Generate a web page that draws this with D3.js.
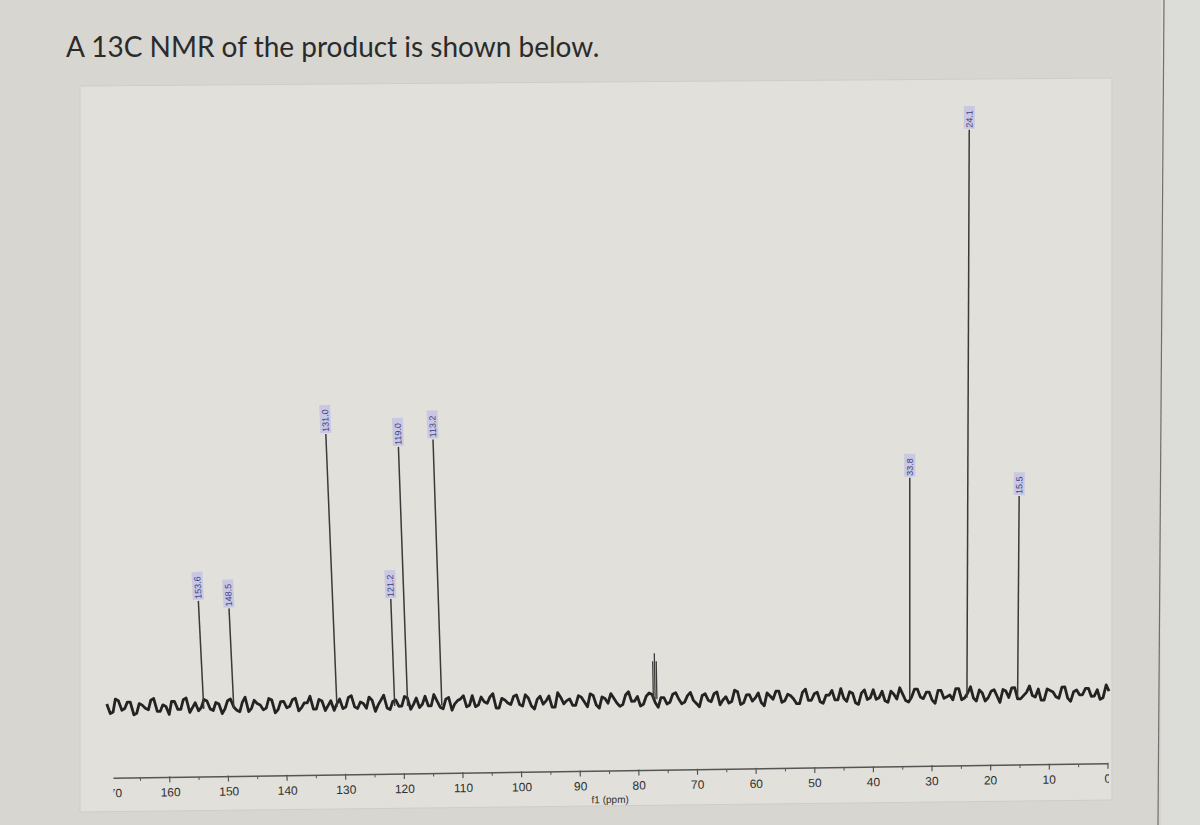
<!DOCTYPE html>
<html>
<head>
<meta charset="utf-8">
<script src="https://cdn.jsdelivr.net/npm/d3@7"></script>
<style>
  body { margin: 0; background: #d7d6d1; }
  svg { display: block; }
</style>
</head>
<body>
<svg id="main_svg" width="1200" height="825"></svg>
<script>
// peak list (ppm, height in arbitrary units, label)
const peakShifts = [153.6, 148.5, 131.0, 121.2, 119.0, 113.2, 33.8, 24.1, 15.5];
const peakHeights = [105, 97, 270, 104, 256, 263, 218, 565, 198];
const peakLabels = ["153.6", "148.5", "131.0", "121.2", "119.0", "113.2", "33.8", "24.1", "15.5"];
// solvent triplet, unlabelled
const solventShifts = [77.3, 77.0, 76.7];
const solventHeights = [38, 46, 38];
// baseline noise, one value per ppm from 170 down to 0
const noise = [2,-3,4,-1,3,-4,1,-2,5,-3,0,3,-2,4,-4,2,-1,3,-3,1,
  -2,4,-3,2,-4,3,0,-2,3,-3,2,-1,4,-2,1,-3,3,-4,2,0,
  -3,4,-2,1,-3,2,-1,5,-4,2,-2,3,-1,-3,4,-2,1,-4,3,-1,
  2,-3,4,-2,0,3,-4,2,-1,3,-2,4,-3,1,-2,3,-4,2,0,-3,
  3,-1,4,-3,2,-2,1,-4,3,-1,2,-3,4,-2,1,-3,3,0,-2,4,
  -3,2,-1,3,-4,1,-2,4,-3,2,0,-3,3,-1,4,-2,1,-4,3,-2,
  2,-3,1,4,-2,-1,3,-4,2,-2,4,-1,-3,3,-2,1,-4,4,-1,2,
  -3,3,-2,0,4,-3,1,-2,3,-4,2,-1,3,-2,4,-3,1,-1,3,-4,
  2,-2,4,-3,1,-1,3,-2,2,-3,1];
// and the in-between values, at 169.5, 168.5 ... 0.5 ppm
const noiseHalf = [-4,5,-2,3,-5,2,-1,4,-3,1,-5,3,-2,5,-1,-3,4,-2,2,-5,
  3,-1,-4,5,-2,1,-3,4,-5,2,-2,3,-4,1,5,-3,2,-1,-4,3,
  -2,5,-3,0,4,-5,2,-3,1,-2,4,-4,3,-1,-2,5,-3,2,-5,1,
  4,-2,-3,3,-1,5,-4,1,-2,4,-3,2,-5,3,0,-4,5,-2,1,-3,
  2,-4,3,-5,1,4,-2,-3,5,-1,-4,2,3,-5,1,-2,4,-3,2,-1,
  -5,3,-2,4,-1,-3,5,-4,2,-2,3,-5,1,4,-3,2,-1,-4,5,-2,
  3,-4,1,-2,5,-3,2,-5,4,-1,-2,3,-4,1,5,-3,-1,4,-2,2,
  -5,3,-1,-3,4,-2,5,-4,1,-2,3,-5,2,4,-3,-1,5,-2,-4,3,
  1,-3,4,-5,2,-1,3,-2,-4,5];
const majorTicks = d3.range(170, -1, -10);
const minorTicks = d3.range(165, 0, -10);

const svg = d3.select("#main_svg");
const baseY = 700;
const axisY = 771;
const font = "'Liberation Sans', Arial, sans-serif";

const x = d3.scaleLinear().domain([170, 0]).range([111, 1108]);
const y = d3.scaleLinear().domain([0, 565]).range([baseY, baseY - 565]);
const yNoise = d3.scaleLinear().domain([0, 1]).range([baseY, baseY - 1.6]);

// the photo is a bit skewed: verticals lean away from x=910, horizontals rise to the right
function warp(px, py) {
  return [px + (px - 910) * (axisY - py) / 14000, py - 0.0145 * (px - 610)];
}
function seg(x1, y1, x2, y2) {
  return d3.line()([warp(x1, y1), warp(x2, y2)]);
}

// photo page: right hand panel and divider
svg.append("rect").attr("x", 1161).attr("y", 0).attr("width", 39).attr("height", 825).attr("fill", "#dcdcd9");
svg.append("line").attr("x1", 1164).attr("y1", 0).attr("x2", 1158).attr("y2", 825)
  .attr("stroke", "#6f6f6c").attr("stroke-width", 1.2);

svg.append("text").attr("x", 66).attr("y", 57)
  .attr("font-family", "Lato, 'Open Sans', sans-serif").attr("font-size", 28)
  .attr("fill", "#2b2b2b").text("A 13C NMR of the product is shown below.");

// plot frame of the screenshot
svg.append("path").attr("d", "M80,86 L1112,78 L1112,800 L80,812 Z")
  .attr("fill", "#e2e0da").attr("stroke", "#cfcdc6").attr("stroke-width", 1);

// baseline noise
const noisePts = [];
noise.forEach((v, i) => {
  noisePts.push(warp(x(170 - i), yNoise(v)));
  if (i < noiseHalf.length) noisePts.push(warp(x(169.5 - i), yNoise(noiseHalf[i])));
});
svg.append("path").attr("d", d3.line()(noisePts))
  .attr("fill", "none").attr("stroke", "#232323").attr("stroke-width", 2.8)
  .attr("stroke-linejoin", "round");

// solvent lines
svg.selectAll(".solvent").data(solventShifts).enter().append("path").attr("class", "solvent")
  .attr("d", (d, i) => seg(x(d), y(0), x(d), y(solventHeights[i])))
  .attr("stroke", "#3a3a3a").attr("stroke-width", 1.3);

// peaks
const peakData = peakShifts.map((s, i) => ({ s: s, h: peakHeights[i], label: peakLabels[i] }));
svg.selectAll(".peak").data(peakData).enter().append("path").attr("class", "peak")
  .attr("d", d => seg(x(d.s), y(0) + 3, x(d.s), y(d.h)))
  .attr("stroke", "#3a3a3a").attr("stroke-width", 1.5);

const lab = svg.selectAll(".plabel").data(peakData).enter().append("g").attr("class", "plabel")
  .attr("transform", d => {
    const p = warp(x(d.s), y(d.h));
    const lean = Math.atan((x(d.s) - 910) / 14000) * 180 / Math.PI;
    return "translate(" + p[0] + "," + p[1] + ") rotate(" + (-90 + lean) + ")";
  });
lab.append("rect").attr("x", 1).attr("y", -5.5).attr("width", d => d.label.length * 5.2 + 2).attr("height", 11)
  .attr("fill", "#c9c8e2");
lab.append("text").attr("x", 2).attr("dy", "0.35em")
  .attr("font-family", font).attr("font-size", 9)
  .attr("fill", "#3d3f86").text(d => d.label);

// axis, clipped at both ends like the screenshot
svg.append("clipPath").attr("id", "axclip").append("rect")
  .attr("x", 113.5).attr("y", 740).attr("width", 995.5).attr("height", 85);
const ax = svg.append("g").attr("clip-path", "url(#axclip)");
ax.append("path").attr("d", seg(x(170), axisY, x(0), axisY))
  .attr("stroke", "#555").attr("stroke-width", 1.5);
ax.selectAll(".maj").data(majorTicks).enter().append("path")
  .attr("d", d => seg(x(d), axisY - 1, x(d), axisY + 5))
  .attr("stroke", "#555").attr("stroke-width", 1.2);
ax.selectAll(".min").data(minorTicks).enter().append("path")
  .attr("d", d => seg(x(d), axisY, x(d), axisY + 3))
  .attr("stroke", "#555").attr("stroke-width", 1);
ax.selectAll(".tl").data(majorTicks).enter().append("text")
  .attr("transform", d => { const p = warp(x(d), axisY + 19); return "translate(" + p[0] + "," + p[1] + ") rotate(-0.83)"; })
  .attr("text-anchor", "middle")
  .attr("font-family", font).attr("font-size", 12)
  .attr("fill", "#2f2f2f").text(d => d);

const fp = warp(x(85), axisY + 32);
svg.append("text").attr("transform", "translate(" + fp[0] + "," + fp[1] + ") rotate(-0.83)")
  .attr("text-anchor", "middle")
  .attr("font-family", font).attr("font-size", 10)
  .attr("fill", "#2f2f2f").text("f1 (ppm)");
</script>
</body>
</html>
